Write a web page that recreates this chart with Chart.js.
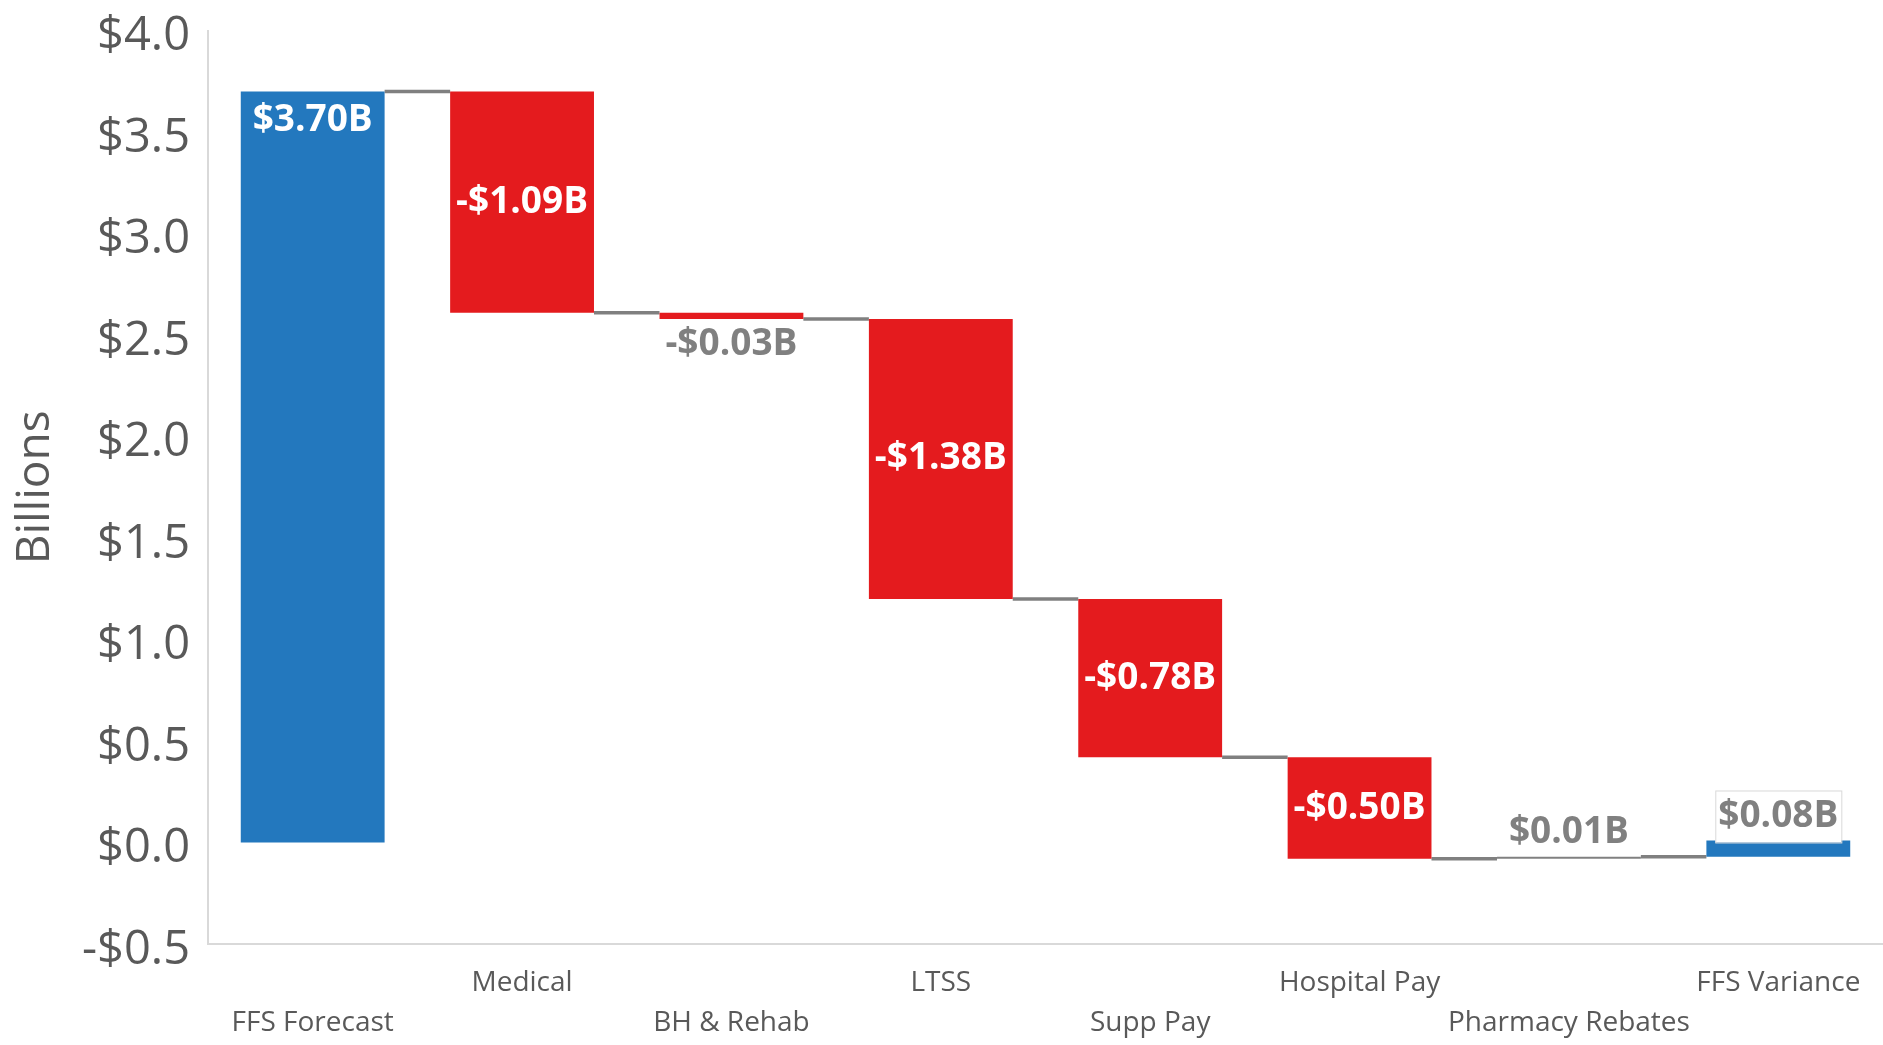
<!DOCTYPE html>
<html>
<head>
<meta charset="utf-8">
<script src="https://cdn.jsdelivr.net/npm/chart.js@4.4.0/dist/chart.umd.min.js"></script>
<style>
  html, body { margin: 0; padding: 0; background: #fff; }
  #wrap { width: 1883px; height: 1045px; }
</style>
</head>
<body>
<div id="wrap"><canvas id="waterfall"></canvas></div>
<script>
// waterfall data (billions)
const categories = ['FFS Forecast', 'Medical', 'BH & Rehab', 'LTSS', 'Supp Pay', 'Hospital Pay', 'Pharmacy Rebates', 'FFS Variance'];
const changes = [3.70, -1.09, -0.03, -1.38, -0.78, -0.50, 0.01, 0.08];
const isTotal = [true, false, false, false, false, false, false, true];
const yMin = -0.5;
const yMax = 4.0;
const yStep = 0.5;

const BLUE = '#2378be';
const RED = '#e41b1e';
const GREY = '#808080';
const TEXT = '#595959';
const FONT = "'Open Sans', sans-serif";

// floating bars [start, end]
const bars = [];
let running = 0;
changes.forEach((c, i) => {
    const start = i === 0 ? 0 : running;
    const end = start + c;
    bars.push([start, end]);
    running = end;
});

const colors = changes.map((c, i) => isTotal[i] ? BLUE : (c < 0 ? RED : GREY));

function money(v, digits) {
    const s = '$' + Math.abs(v).toFixed(digits);
    return v < 0 ? '-' + s : s;
}

// connector lines between bars
const connectors = {
    id: 'connectors',
    beforeDatasetsDraw(chart) {
        const ctx = chart.ctx;
        const y = chart.scales.y;
        const meta = chart.getDatasetMeta(0);
        ctx.save();
        ctx.strokeStyle = GREY;
        ctx.lineWidth = 3.5;
        for (let i = 0; i < bars.length - 1; i++) {
            const a = meta.data[i], b = meta.data[i + 1];
            const py = y.getPixelForValue(bars[i][1]);
            ctx.beginPath();
            ctx.moveTo(a.x + a.width / 2, py);
            ctx.lineTo(b.x - b.width / 2, py);
            ctx.stroke();
        }
        ctx.restore();
    }
};

// value labels
const valueLabels = {
    id: 'valueLabels',
    afterDatasetsDraw(chart) {
        const ctx = chart.ctx;
        const meta = chart.getDatasetMeta(0);
        ctx.save();
        ctx.font = 'bold 37px ' + FONT;
        ctx.textAlign = 'center';
        ctx.textBaseline = 'middle';
        meta.data.forEach((bar, i) => {
            const top = Math.min(bar.y, bar.base);
            const bottom = Math.max(bar.y, bar.base);
            const h = bottom - top;
            const text = money(changes[i], 2) + 'B';
            let ty, color = '#fff';
            if (i === 0) {
                ty = top + 29;
            } else if (h > 60) {
                ty = (top + bottom) / 2;
            } else if (changes[i] < 0) {
                ty = bottom + 26;
                color = GREY;
            } else {
                ty = top - 24;
                color = GREY;
            }
            if (isTotal[i] && h <= 60) {
                const w = ctx.measureText(text).width + 6;
                ctx.fillStyle = '#fff';
                ctx.fillRect(bar.x - w / 2, ty - 26, w, 52);
                ctx.strokeStyle = '#d9d9d9';
                ctx.lineWidth = 1;
                ctx.strokeRect(bar.x - w / 2 + 0.5, ty - 26 + 0.5, w, 52);
            }
            ctx.fillStyle = color;
            ctx.fillText(text, bar.x, ty);
        });
        ctx.restore();
    }
};

new Chart(document.getElementById('waterfall'), {
    type: 'bar',
    data: {
        labels: categories,
        datasets: [{
            data: bars,
            backgroundColor: colors,
            borderWidth: 0,
            barPercentage: 0.687,
            categoryPercentage: 1.0
        }]
    },
    options: {
        responsive: true,
        maintainAspectRatio: false,
        animation: false,
        layout: { padding: { top: 0, right: 0, left: 0, bottom: 0 } },
        plugins: {
            legend: { display: false },
            tooltip: { enabled: false }
        },
        scales: {
            x: {
                grid: { display: false, drawTicks: false },
                border: { color: '#d9d9d9', width: 2 },
                ticks: {
                    autoSkip: false,
                    maxRotation: 0,
                    padding: 19,
                    color: TEXT,
                    font: { family: FONT, size: 28, lineHeight: 1.43 },
                    callback: (v, i) => i % 2 === 0 ? ['', categories[i]] : categories[i]
                },
                afterFit: s => { s.height = 101; }
            },
            y: {
                min: yMin,
                max: yMax,
                grid: { display: false, drawTicks: false },
                border: { color: '#d9d9d9', width: 2 },
                ticks: {
                    stepSize: yStep,
                    padding: 18,
                    color: TEXT,
                    font: { family: FONT, size: 47, lineHeight: 0.27 },
                    // empty first line nudges the label slightly below its tick, as in the original
                    callback: v => ['', money(v, 1)]
                },
                title: {
                    display: true,
                    text: 'Billions',
                    color: TEXT,
                    font: { family: FONT, size: 46 },
                    padding: { top: 8, bottom: 0 }
                },
                afterFit: s => { s.width = 208; }
            }
        }
    },
    plugins: [connectors, valueLabels]
});
</script>
</body>
</html>
